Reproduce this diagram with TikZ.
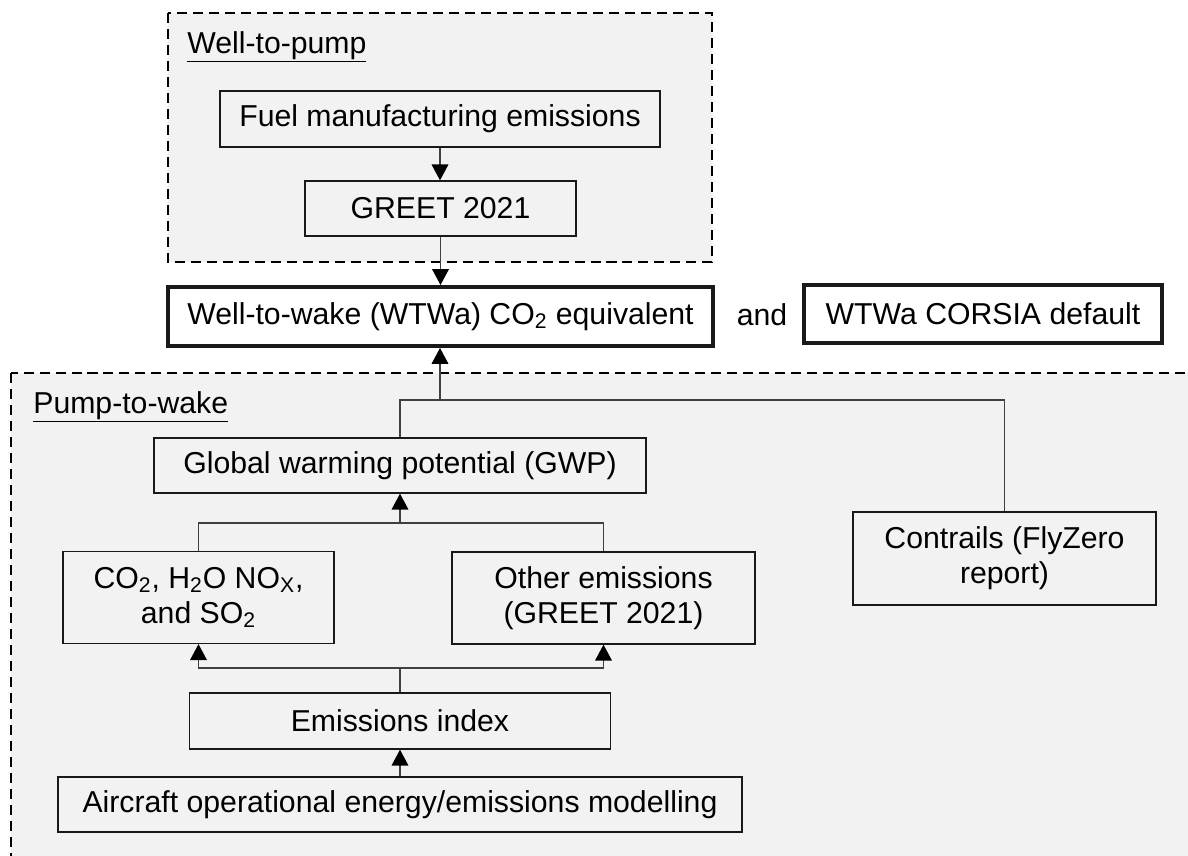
\documentclass[tikz,border=0pt]{standalone}
\usepackage{fontspec}
\setmainfont{Liberation Sans}
\usepackage{xcolor}
\usetikzlibrary{arrows.meta}
\definecolor{panelgray}{HTML}{F2F2F2}

\begin{document}
\begin{tikzpicture}[x=0.02cm,y=-0.02cm,
  txt/.style={inner sep=0pt, font=\fontsize{17.2}{20}\selectfont},
  box/.style={txt, draw=black!90, line width=0.8pt, align=center},
  bigbox/.style={box, line width=2.3pt, fill=white},
  panel/.style={fill=panelgray, draw=black, line width=0.85pt, dash pattern=on 5.7pt off 3.4pt},
  link/.style={draw=black!75, line width=0.6pt},
  arr/.style={link, -{Triangle[width=9.5pt,length=9pt,color=black]}}]

\clip (0,0) rectangle (1188,856);
\fill[white] (0,0) rectangle (1188,856);

% --- PANELS ---
\draw[panel] (168,13) rectangle (712,262);
\draw[panel] (11,373) rectangle (1230,900);

\node[txt, anchor=base west] (wtplabel) at (187,53) {\underline{Well-to-pump}};
\node[txt, anchor=base west] (ptwlabel) at (33,413) {\underline{Pump-to-wake}};

% --- WELL-TO-PUMP ---
\node[box, minimum width=8.8cm, minimum height=1.12cm] (fuel) at (440,119) {Fuel manufacturing emissions};
\node[box, minimum width=5.42cm, minimum height=1.1cm] (greet) at (440.5,208.5) {GREET 2021};

% --- WELL-TO-WAKE ---
\node[bigbox, minimum width=10.9cm, minimum height=1.18cm] (wtwa) at (440.5,316.5) {Well-to-wake (WTWa) CO\textsubscript{2} equivalent};
\node[txt] (and) at (762,315) {and};
\node[bigbox, minimum width=7.16cm, minimum height=1.16cm] (corsia) at (983,314) {WTWa CORSIA default};

% --- PUMP-TO-WAKE ---
\node[box, minimum width=9.84cm, minimum height=1.1cm] (gwp) at (400,465.5) {Global warming potential (GWP)};
\node[box, minimum width=6.06cm, minimum height=1.86cm] (contr) at (1004.5,558.5) {Contrails (FlyZero\\report)};
\node[box, minimum width=5.42cm, minimum height=1.84cm] (co2) at (198.5,597.5) {CO\textsubscript{2}, H\textsubscript{2}O NO\textsubscript{X},\\and SO\textsubscript{2}};
\node[box, minimum width=6.06cm, minimum height=1.84cm] (other) at (603.5,598) {Other emissions\\(GREET 2021)};
\node[box, minimum width=8.42cm, minimum height=1.12cm] (emi) at (400,721) {Emissions index};
\node[box, minimum width=13.68cm, minimum height=1.1cm] (air) at (400,804.5) {Aircraft operational energy/emissions modelling};

\coordinate (jtop) at (440,400);
\coordinate (jmid) at (400,523);
\coordinate (jbot) at (400,668);

% --- CONNECTORS ---
\draw[arr] (fuel.south) -- (fuel.south |- greet.north);
\draw[arr] (greet.south) -- (greet.south |- wtwa.north);

\draw[link] (gwp.north) |- (jtop) -| (contr.north);
\draw[arr] (jtop) -- (jtop |- wtwa.south);

\draw[link] (co2.north) |- (jmid) -| (other.north);
\draw[arr] (jmid) -- (gwp.south);

\draw[link] (emi.north) -- (jbot);
\draw[arr] (jbot) -| (co2.south);
\draw[arr] (jbot) -| (other.south);

\draw[arr] (air.north) -- (emi.south);

\end{tikzpicture}
\end{document}
